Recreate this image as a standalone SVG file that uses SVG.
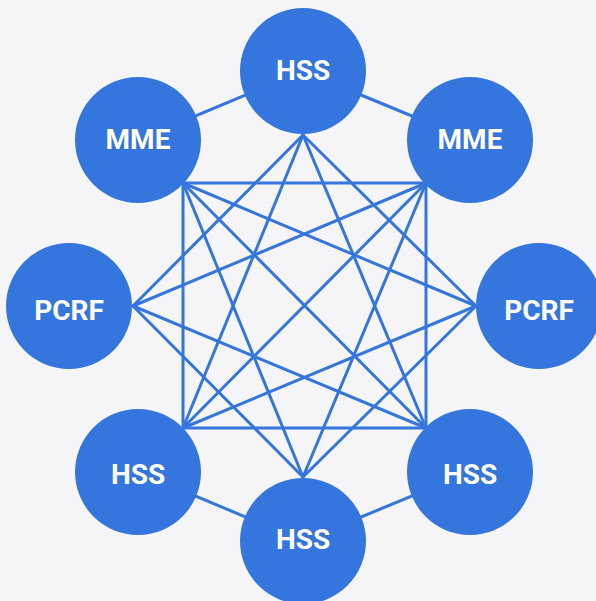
<svg xmlns="http://www.w3.org/2000/svg" width="596" height="601" viewBox="0 0 596 601">
<style>
.bg{fill:#f5f5f8}
.edge{stroke:#3476dd;stroke-width:3;fill:none;stroke-linecap:round}
.node circle{fill:#3476dd}
.node text{fill:#ffffff;font-family:Roboto,"Liberation Sans",sans-serif;font-weight:bold;font-size:28px;text-anchor:middle}
</style>
<rect class="bg" x="0" y="0" width="596" height="601"/>
<g id="connectors">
<line class="edge" x1="138" y1="140" x2="303" y2="71"/>
<line class="edge" x1="470" y1="140" x2="303" y2="71"/>
<line class="edge" x1="138" y1="472" x2="303" y2="541"/>
<line class="edge" x1="470" y1="472" x2="303" y2="541"/>
<line class="edge" x1="303" y1="135" x2="133" y2="306"/>
<line class="edge" x1="303" y1="135" x2="183" y2="428"/>
<line class="edge" x1="303" y1="135" x2="476" y2="306"/>
<line class="edge" x1="303" y1="135" x2="426" y2="428"/>
<line class="edge" x1="183" y1="183" x2="426" y2="183"/>
<line class="edge" x1="183" y1="183" x2="183" y2="428"/>
<line class="edge" x1="183" y1="183" x2="476" y2="306"/>
<line class="edge" x1="183" y1="183" x2="303" y2="477"/>
<line class="edge" x1="183" y1="183" x2="426" y2="428"/>
<line class="edge" x1="426" y1="183" x2="426" y2="428"/>
<line class="edge" x1="426" y1="183" x2="133" y2="306"/>
<line class="edge" x1="426" y1="183" x2="303" y2="477"/>
<line class="edge" x1="426" y1="183" x2="183" y2="428"/>
<line class="edge" x1="133" y1="306" x2="426" y2="428"/>
<line class="edge" x1="133" y1="306" x2="303" y2="477"/>
<line class="edge" x1="476" y1="306" x2="183" y2="428"/>
<line class="edge" x1="476" y1="306" x2="303" y2="477"/>
<line class="edge" x1="183" y1="428" x2="426" y2="428"/>
</g>
<g id="hss-top" class="node"><circle cx="303" cy="71" r="63"/><text x="303" y="80">HSS</text></g>
<g id="mme-left" class="node"><circle cx="138" cy="140" r="63"/><text x="138" y="149">MME</text></g>
<g id="mme-right" class="node"><circle cx="470" cy="140" r="63"/><text x="470" y="149">MME</text></g>
<g id="pcrf-left" class="node"><circle cx="69" cy="306" r="63"/><text x="69" y="320">PCRF</text></g>
<g id="pcrf-right" class="node"><circle cx="539" cy="306" r="63"/><text x="539" y="320">PCRF</text></g>
<g id="hss-bottom-left" class="node"><circle cx="138" cy="472" r="63"/><text x="138" y="484">HSS</text></g>
<g id="hss-bottom-right" class="node"><circle cx="470" cy="472" r="63"/><text x="470" y="484">HSS</text></g>
<g id="hss-bottom" class="node"><circle cx="303" cy="541" r="63"/><text x="303" y="549">HSS</text></g>
</svg>
